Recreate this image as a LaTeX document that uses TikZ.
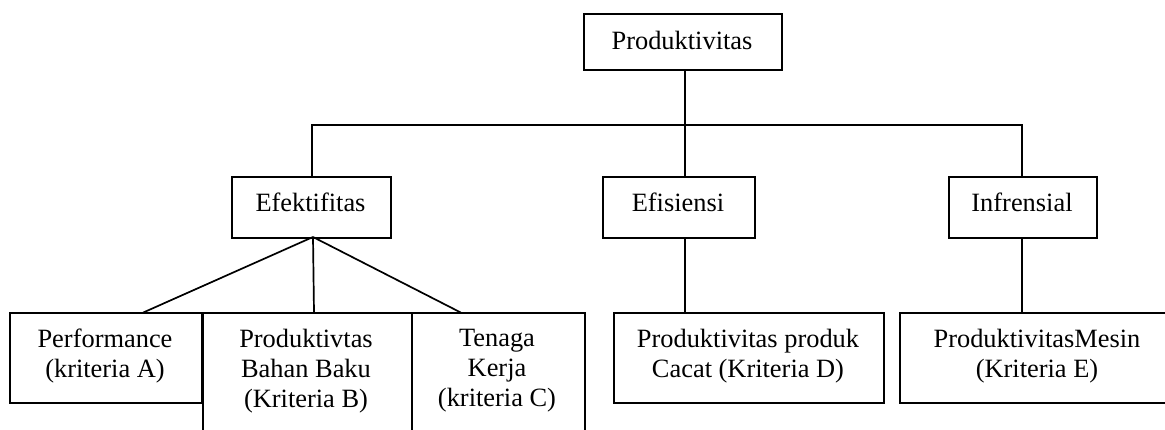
\documentclass[tikz,border=0pt]{standalone}
\usepackage{fontspec}
\setmainfont{Liberation Serif}
\begin{document}
\begin{tikzpicture}[x=1pt,y=-1pt,
  boxn/.style={draw, rectangle, line width=1.9pt, inner sep=0pt, anchor=north west},
  lbl/.style={inner sep=0pt, align=center, font=\fontsize{26.4}{30}\selectfont},
  conn/.style={line width=1.7pt}]
\useasboundingbox (0,0) rectangle (1165,430);
\clip (0,0) rectangle (1165,430);
% boxes
\node[boxn, minimum width=198pt, minimum height=56pt] (prod) at (583,13.3) {};
\node[boxn, minimum width=159pt, minimum height=61pt] (eff) at (231,176) {};
\node[boxn, minimum width=152pt, minimum height=61pt] (efi) at (602,176) {};
\node[boxn, minimum width=148pt, minimum height=61pt] (inf) at (948,176) {};
\node[boxn, minimum width=192pt, minimum height=89.5pt] (ka) at (9.3,312.5) {};
\node[boxn, minimum width=209pt, minimum height=140pt] (kb) at (201.7,312.5) {};
\node[boxn, minimum width=173.3pt, minimum height=140pt] (kc) at (410.7,312.5) {};
\node[boxn, minimum width=270pt, minimum height=89.2pt] (kd) at (613.3,312.5) {};
\node[boxn, minimum width=276pt, minimum height=89.2pt] (ke) at (899.3,312.5) {};
% texts
\node[lbl, anchor=base] (prodt) at (682,50) {Produktivitas};
\node[lbl, anchor=base] (efft) at (310.5,212) {Efektifitas};
\node[lbl, anchor=base] (efit) at (678,212) {Efisiensi};
\node[lbl, anchor=base] (inft) at (1022,211.5) {Infrensial};
\node[lbl, anchor=north] (kat) at (105,329) {Performance\\(kriteria A)};
\node[lbl, anchor=north] (kbt) at (306,329) {Produktivtas\\Bahan Baku\\(Kriteria B)};
\node[lbl, anchor=north] (kct) at (497,329) {Tenaga\\Kerja\\(kriteria C)};
\node[lbl, anchor=north] (kdt) at (748,329) {Produktivitas produk\\Cacat (Kriteria D)};
\node[lbl, anchor=north] (ket) at (1037,329) {ProduktivitasMesin\\(Kriteria E)};
% connector coordinates
\coordinate (bus) at (685,125);
\coordinate (busL) at (312,125);
\coordinate (busR) at (1022,125);
\coordinate (fan) at (313,237);
\coordinate (ta) at (143.3,312.5);
\coordinate (tb) at (314,312.5);
\coordinate (tc) at (460.7,312.5);
% connectors
\draw[conn] (bus |- prod.south) -- (bus);
\draw[conn] (eff.north -| busL) -- (busL) -- (busR) -- (inf.north -| busR);
\draw[conn] (bus) -- (bus |- efi.north);
\draw[conn] (fan) -- (ta);
\draw[conn] (fan) -- (tb);
\draw[conn] (fan) -- (tc);
\draw[conn] (bus |- efi.south) -- (bus |- kd.north);
\draw[conn] (busR |- inf.south) -- (busR |- ke.north);
\end{tikzpicture}
\end{document}
